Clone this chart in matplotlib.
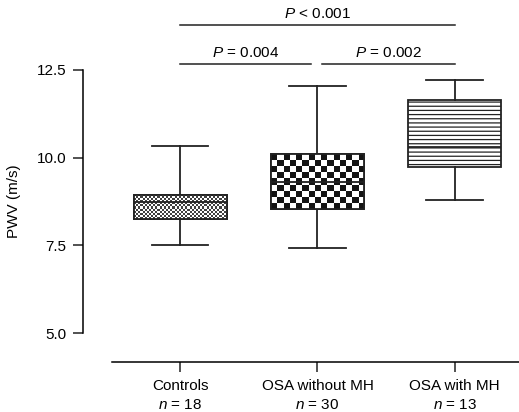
import numpy as np
import matplotlib
matplotlib.use("Agg")
import matplotlib.pyplot as plt

plt.rcParams['font.family'] = 'Liberation Sans'
plt.rcParams['font.size'] = 11
plt.rcParams['mathtext.fontset'] = 'custom'
plt.rcParams['mathtext.rm'] = 'Liberation Sans'
plt.rcParams['mathtext.it'] = 'Liberation Sans:italic'
plt.rcParams['hatch.linewidth'] = 0.9
plt.rcParams['hatch.color'] = '#333333'

# Box plot values (PWV, m/s)
groups = ['Controls', 'OSA without MH', 'OSA with MH']
n_sizes = [18, 30, 13]
whisker_low = [7.50, 7.44, 8.80]
q1 = [8.24, 8.54, 9.74]
median = [8.74, 9.30, 10.31]
q3 = [8.95, 10.10, 11.63]
whisker_high = [10.32, 12.03, 12.20]

# Significance brackets: (from group, to group, height, label)
comparisons = [(0, 2, 13.78, r'$P$ < 0.001'),
               (0, 0.95, 12.66, r'$P$ = 0.004'),
               (1.03, 2, 12.66, r'$P$ = 0.002')]

fig = plt.figure(figsize=(5.19, 4.12), dpi=100)
ax = fig.add_axes([0.16, 0.1214, 0.84, 0.8786])

stats = []
for i in range(len(groups)):
    stats.append({'whislo': whisker_low[i], 'q1': q1[i], 'med': median[i],
                  'q3': q3[i], 'whishi': whisker_high[i], 'fliers': []})

positions = np.arange(len(groups))
width = 0.68
lw = 1.3
res = ax.bxp(stats, positions=positions, widths=width, patch_artist=True,
             showfliers=False, capwidths=0.41,
             boxprops=dict(facecolor='white', edgecolor='#222222', linewidth=lw),
             whiskerprops=dict(color='#222222', linewidth=lw),
             capprops=dict(color='#222222', linewidth=lw),
             medianprops=dict(color='#222222', linewidth=lw, zorder=5))


def checker(nx, ny, dark, light=1.0):
    yy, xx = np.indices((ny, nx))
    return np.where((xx + yy) % 2 == 0, dark, light)


# fill patterns: fine halftone, coarse checkerboard, horizontal lines
textures = [checker(44, 12, 0.25), checker(15, 9, 0.08), None]
for i, box in enumerate(res['boxes']):
    if textures[i] is None:
        box.set_hatch('----')
        continue
    ext = (positions[i] - width / 2, positions[i] + width / 2, q1[i], q3[i])
    im = ax.imshow(textures[i], cmap='gray', vmin=0, vmax=1, extent=ext,
                   interpolation='nearest', aspect='auto', zorder=box.get_zorder() + 0.1)
    im.set_clip_path(box)
    # outline on top of the texture
    outline = plt.Rectangle((ext[0], q1[i]), width, q3[i] - q1[i], fill=False,
                            edgecolor='#222222', lw=lw, zorder=5)
    ax.add_patch(outline)

for x0, x1, h, label in comparisons:
    ax.plot([x0, x1], [h, h], color='#222222', lw=1.1, clip_on=False)
    ax.text((x0 + x1) / 2, h + 0.12, label, ha='center', va='bottom', fontsize=11)

ax.set_xlim(-0.71, 2.47)
ax.set_ylim(4.18, 14.49)
ax.set_yticks([5.0, 7.5, 10.0, 12.5])
ax.set_yticklabels(['5.0', '7.5', '10.0', '12.5'])
ax.set_xticks(positions)
ax.set_xticklabels([f'{g}\n$n$ = {n}' for g, n in zip(groups, n_sizes)],
                   linespacing=1.5)

for s in ['top', 'right']:
    ax.spines[s].set_visible(False)
ax.spines['left'].set_bounds(5.0, 12.5)
ax.spines['bottom'].set_bounds(-0.5, 2.47)
ax.spines['left'].set_linewidth(1.1)
ax.spines['bottom'].set_linewidth(1.1)
ax.tick_params(axis='both', length=7, width=1.1, color='#222222', labelsize=11)
ax.tick_params(axis='y', pad=5)
ax.tick_params(axis='x', pad=5)

ax.set_ylabel('PWV (m/s)', fontsize=11)
ax.yaxis.set_label_coords(-0.143, (8.75 - 4.18) / (14.49 - 4.18))

fig.savefig('out.png', dpi=100)
